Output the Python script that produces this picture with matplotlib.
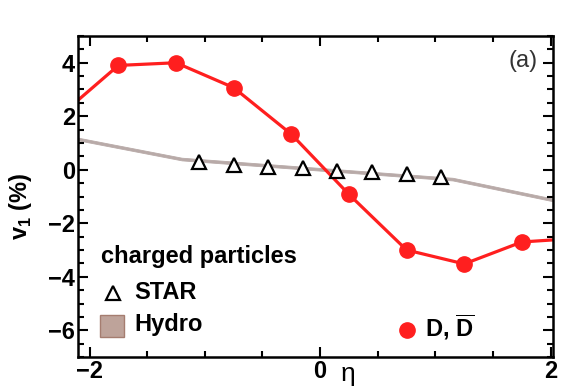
import numpy as np
import matplotlib.pyplot as plt
from matplotlib.patches import Rectangle
from matplotlib.ticker import MultipleLocator

plt.rcParams['font.family'] = ['Liberation Sans', 'DejaVu Sans']
plt.rcParams['mathtext.fontset'] = 'custom'
plt.rcParams['mathtext.rm'] = 'Liberation Sans'
plt.rcParams['mathtext.bf'] = 'Liberation Sans:bold'

# D meson v1 (%) vs eta
d_eta = [-1.75, -1.25, -0.75, -0.25, 0.25, 0.75, 1.25, 1.75]
d_v1 = [3.9, 4.0, 3.07, 1.33, -0.92, -3.0, -3.52, -2.7]
# connecting curve, extended to the frame edges
d_curve_eta = [-2.1, -1.75, -1.25, -0.75, -0.25, 0.25, 0.75, 1.25, 1.75, 2.1]
d_curve_v1 = [2.6, 3.9, 4.0, 3.07, 1.33, -0.92, -3.0, -3.52, -2.7, -2.6]

# STAR charged particles
star_eta = [-1.05, -0.75, -0.45, -0.15, 0.15, 0.45, 0.75, 1.05]
star_v1 = [0.3, 0.18, 0.1, 0.05, -0.03, -0.1, -0.17, -0.28]

# hydro band for charged particles
hydro_eta = [-2.1, -1.2, 1.15, 2.1]
hydro_v1 = [1.15, 0.4, -0.35, -1.2]
hydro_half = 0.05

red = '#ff1f1f'
hydro_col = '#b8aaa8'

fig = plt.figure(figsize=(5.62, 3.89), dpi=100)
ax = fig.add_axes([78/562, 32/389, 475/562, 321/389])

ax.fill_between(hydro_eta, np.array(hydro_v1) - hydro_half,
                np.array(hydro_v1) + hydro_half, color=hydro_col, lw=0.6,
                edgecolor=hydro_col, zorder=1)
ax.plot(d_curve_eta, d_curve_v1, color=red, lw=2.3, zorder=2)
ax.plot(d_eta, d_v1, 'o', color=red, ms=11, zorder=3)
ax.plot(star_eta, star_v1, '^', mfc='white', mec='black', mew=1.6, ms=10, zorder=4)

ax.set_xlim(-2.1, 2.02)
ax.set_ylim(-7, 5)
ax.xaxis.set_major_locator(MultipleLocator(2))
ax.xaxis.set_minor_locator(MultipleLocator(0.5))
ax.yaxis.set_major_locator(MultipleLocator(2))
ax.yaxis.set_minor_locator(MultipleLocator(0.5))
ax.tick_params(which='both', direction='in', top=True, right=True, width=1.5)
ax.tick_params(which='major', length=7, labelsize=17, pad=2)
ax.tick_params(which='minor', length=4)
for lab in ax.get_xticklabels() + ax.get_yticklabels():
    lab.set_fontweight('bold')
for sp in ax.spines.values():
    sp.set_linewidth(1.8)

fig.text(21/562, 1 - 206/389, r'$\mathbf{v}_\mathbf{1}$ (%)', fontsize=17,
         fontweight='bold', rotation=90, ha='center', va='center')
fig.text(348/562, 1 - 374/389, 'η', fontsize=19, ha='center', va='center')
ax.text(1.89, 4.07, '(a)', fontsize=17, ha='right', va='center', color='#333333')

# legend
ax.text(-1.9, -3.25, 'charged particles', fontsize=17, fontweight='bold', va='center')
ax.plot([-1.8], [-4.6], '^', mfc='white', mec='black', mew=1.6, ms=10)
ax.text(-1.61, -4.6, 'STAR', fontsize=17, fontweight='bold', va='center')
ax.add_patch(Rectangle((-1.91, -6.24), 0.21, 0.82, facecolor='#bea39a',
                       edgecolor='#a57d70', lw=1))
ax.text(-1.61, -5.8, 'Hydro', fontsize=17, fontweight='bold', va='center')
ax.plot([0.75], [-5.98], 'o', color=red, ms=11)
ax.text(0.91, -5.9, r'D, $\mathbf{\overline{D}}$', fontsize=17, fontweight='bold', va='center')

fig.savefig('out.png', dpi=100)
